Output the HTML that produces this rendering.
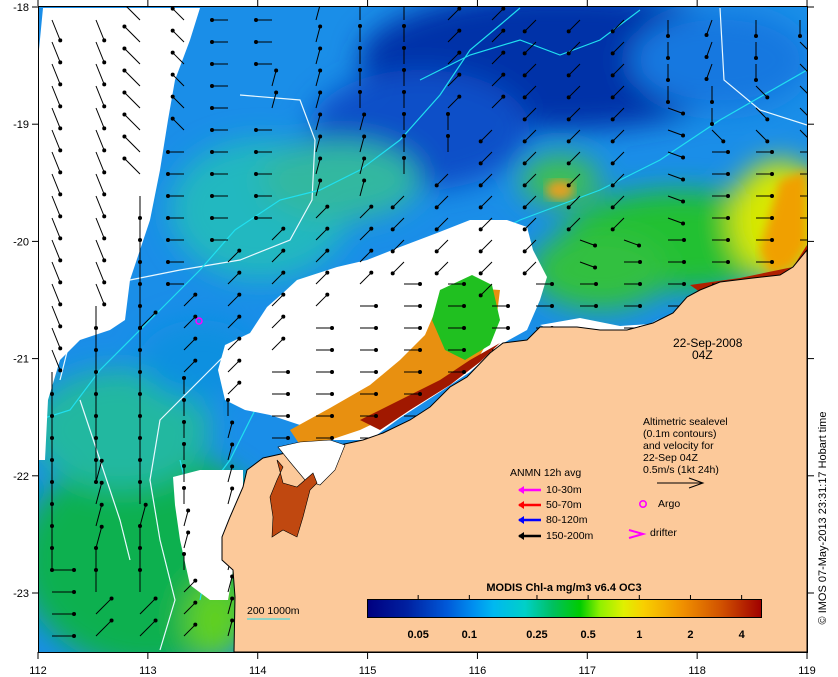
<!DOCTYPE html>
<html><head><meta charset="utf-8">
<style>
html,body{margin:0;padding:0;background:#fff;}
svg{display:block;font-family:"Liberation Sans",sans-serif;}
</style></head>
<body>
<svg id="map" width="838" height="677" viewBox="0 0 838 677">
<defs>
<clipPath id="plot"><rect x="38" y="6" width="769" height="646"/></clipPath>
<filter id="blur" x="-20%" y="-20%" width="140%" height="140%"><feGaussianBlur stdDeviation="14"/></filter>
<filter id="blur2"><feGaussianBlur stdDeviation="5"/></filter>
<linearGradient id="cbar" x1="0" x2="1" y1="0" y2="0">
<stop offset="0" stop-color="#000080"/><stop offset="0.1" stop-color="#0020a0"/>
<stop offset="0.2" stop-color="#0058d8"/><stop offset="0.27" stop-color="#0090f0"/>
<stop offset="0.32" stop-color="#00b8f0"/><stop offset="0.4" stop-color="#00d0c8"/>
<stop offset="0.47" stop-color="#00c060"/><stop offset="0.54" stop-color="#00cc00"/>
<stop offset="0.59" stop-color="#90f000"/><stop offset="0.65" stop-color="#e0f000"/>
<stop offset="0.7" stop-color="#f8d000"/><stop offset="0.8" stop-color="#f09000"/>
<stop offset="0.9" stop-color="#d05000"/><stop offset="1" stop-color="#a00000"/>
</linearGradient>
</defs>

<g clip-path="url(#plot)">
  <rect x="38" y="6" width="769" height="646" fill="#1a8ee8"/>
  <g filter="url(#blur)">
    <ellipse cx="560" cy="60" rx="200" ry="70" fill="#0030a8"/>
    <ellipse cx="420" cy="130" rx="110" ry="60" fill="#1050c8"/>
    <ellipse cx="720" cy="60" rx="90" ry="50" fill="#1878e0"/>
    <ellipse cx="260" cy="210" rx="90" ry="70" fill="#20b8c0"/>
    <ellipse cx="340" cy="180" rx="80" ry="40" fill="#30b8a0"/>
    <ellipse cx="150" cy="560" rx="130" ry="110" fill="#10b050"/>
    <ellipse cx="120" cy="430" rx="90" ry="60" fill="#20b8a0"/>
    <ellipse cx="200" cy="360" rx="60" ry="40" fill="#1090e0"/>
    <ellipse cx="680" cy="240" rx="120" ry="50" fill="#20c030"/>
    <ellipse cx="780" cy="220" rx="50" ry="60" fill="#d8e800"/>
    <ellipse cx="600" cy="270" rx="70" ry="40" fill="#30c040"/>
    <ellipse cx="560" cy="180" rx="40" ry="25" fill="#40c050"/>
    <ellipse cx="215" cy="620" rx="30" ry="40" fill="#60d020"/>
  </g>
  <ellipse cx="560" cy="190" rx="14" ry="10" fill="#e0a020" filter="url(#blur2)"/>
  <path d="M780,180 L807,170 L807,245 L793,267 L770,276 L760,250 Z" fill="#f0a000" filter="url(#blur2)"/>
  <path d="M690,285 L740,278 L793,267 L807,245 L807,260 L793,272 L753,280 L700,292 Z" fill="#b02000"/>
  <g fill="none" stroke-width="1.2">
    <path d="M240,95 L300,100 L315,140 L312,200 L290,240 L240,260 L180,270 L130,280 L90,300 L70,340 L60,380" stroke="#e8f8ff"/>
    <path d="M130,560 L120,520 L100,460 L80,400" stroke="#e8f8ff"/>
    <path d="M160,650 L175,600 L160,540 L150,480 L160,420 L200,380 L240,340 L300,305 L330,280" stroke="#e8f8ff"/>
    <path d="M420,290 L470,270" stroke="#e8f8ff"/>
    <path d="M720,8 L724,80 L760,110 L807,125" stroke="#e8f8ff"/>
    <path d="M38,420 L70,410 L100,370 L150,320 L200,270 L235,230 L280,200 L320,190 L360,170 L400,140 L440,95 L470,50 L500,25 L520,8" stroke="#20e0f0"/>
    <path d="M200,500 L230,460 L260,400 L300,350 L340,320 L400,290 L460,250 L520,220 L560,205 L600,190 L660,160 L720,120 L807,70" stroke="#20e0f0"/>
    <path d="M420,80 L470,55 L520,40 L560,55 L600,40 L640,10" stroke="#20e0f0"/>
    <path d="M200,600 L210,550 L190,500 L180,460" stroke="#20e0f0"/>
  </g>
  <g fill="#ffffff">
    <path d="M43,8 L200,8 L190,40 L175,80 L168,120 L160,170 L150,220 L140,250 L130,280 L125,320 L110,330 L80,340 L60,360 L48,400 L45,460 L38,460 L38,60 Z"/>
    <path d="M267,307 L283,293 L297,280 L337,267 L367,260 L400,247 L437,233 L470,220 L507,220 L527,227 L533,250 L547,277 L540,300 L527,330 L500,345 L470,372 L440,392 L400,418 L370,440 L330,440 L300,425 L270,415 L245,410 L225,400 L218,370 L225,345 L250,333 Z"/>
    <path d="M540,325 L580,318 L620,326 L650,324 L660,318 L640,332 L600,334 L560,334 Z"/>
    <path d="M173,477 L200,470 L243,470 L243,487 L230,517 L222,560 L233,570 L228,600 L210,600 L190,585 L180,540 L175,505 Z"/>
  </g>
  <path d="M290,430 L330,408 L370,385 L400,360 L425,335 L440,300 L470,288 L500,290 L495,330 L480,355 L460,370 L440,385 L410,400 L385,418 L360,430 L330,440 L300,445 Z" fill="#e89010"/>
  <path d="M440,290 L472,275 L492,285 L500,320 L490,345 L465,360 L445,350 L432,320 Z" fill="#20c020"/>
  <path d="M360,420 L400,400 L440,380 L470,360 L500,343 L480,362 L450,385 L410,410 L380,430 Z" fill="#a01800"/>
  <g id="arrows"></g>
  <path id="land" d="M807,250 L793,267 L780,275 L753,278 L720,282 L700,290 L687,297 L673,313 L653,323 L627,330 L600,330 L577,327 L540,327 L527,340 L503,343 L490,353 L467,377 L450,387 L430,407 L410,420 L383,433 L363,440 L340,445 L313,445 L290,452 L263,458 L247,470 L243,487 L230,517 L222,537 L222,560 L233,570 L235,597 L234,652 L807,652 Z" fill="#fcc99a" stroke="#000" stroke-width="1"/>
  <path d="M278,447 L300,442 L330,440 L345,445 L335,470 L320,485 L305,480 L290,462 Z" fill="#ffffff" stroke="#000" stroke-width="0.6"/>
  <path d="M277,460 L283,467 L277,480 L270,497 L273,517 L272,537 L283,530 L297,537 L303,517 L310,490 L317,483 L313,473 L297,487 L283,483 Z" fill="#c04810" stroke="#000" stroke-width="0.6"/>
  <circle cx="199" cy="321" r="3" fill="none" stroke="#ff00ff" stroke-width="1.5"/>
</g>

<rect x="38.5" y="6.5" width="769" height="646" fill="none" stroke="#000"/>
<g id="axes"></g>

<text x="673" y="347" font-size="12">22-Sep-2008</text>
<text x="692" y="359" font-size="12">04Z</text>
<g font-size="10.5">
  <text x="643" y="425">Altimetric sealevel</text>
  <text x="643" y="437">(0.1m contours)</text>
  <text x="643" y="449">and velocity for</text>
  <text x="643" y="461">22-Sep 04Z</text>
  <text x="643" y="473">0.5m/s (1kt 24h)</text>
  <line x1="657" y1="483" x2="703" y2="483" stroke="#000"/>
  <path d="M689,478 L703,483 L689,488" fill="none" stroke="#000"/>
</g>
<g font-size="10.5">
  <text x="510" y="476">ANMN 12h avg</text>
  <g><line x1="519" y1="490" x2="541" y2="490" stroke="#ff00ff" stroke-width="2.5"/><path d="M524,486 L518,490 L524,494 Z" fill="#ff00ff"/><text x="546" y="493">10-30m</text></g>
  <g><line x1="519" y1="505" x2="541" y2="505" stroke="#ff0000" stroke-width="2.5"/><path d="M524,501 L518,505 L524,509 Z" fill="#ff0000"/><text x="546" y="508">50-70m</text></g>
  <g><line x1="519" y1="520" x2="541" y2="520" stroke="#0000ff" stroke-width="2.5"/><path d="M524,516 L518,520 L524,524 Z" fill="#0000ff"/><text x="546" y="523">80-120m</text></g>
  <g><line x1="519" y1="536" x2="541" y2="536" stroke="#000" stroke-width="2.5"/><path d="M524,532 L518,536 L524,540 Z" fill="#000"/><text x="546" y="539">150-200m</text></g>
  <circle cx="643" cy="504" r="3.2" fill="none" stroke="#ff00ff" stroke-width="1.6"/>
  <text x="658" y="507">Argo</text>
  <path d="M629,530 L643,534 L629,538" fill="none" stroke="#ff00ff" stroke-width="2"/>
  <text x="650" y="536">drifter</text>
</g>
<g>
  <text x="247" y="614" font-size="10.5">200  1000m</text>
  <line x1="247" y1="619" x2="290" y2="619" stroke="#20e0f0"/>
</g>
<g>
  <text x="564" y="591" font-size="11" font-weight="bold" text-anchor="middle">MODIS Chl-a mg/m3 v6.4 OC3</text>
  <rect x="367.5" y="599.5" width="394" height="18" fill="url(#cbar)" stroke="#000"/>
  <g id="cbticks"></g>
</g>
<text transform="translate(826,518) rotate(-90)" font-size="11" text-anchor="middle">© IMOS 07-May-2013 23:31:17 Hobart time</text>

<script>
const lonTicks = [112,113,114,115,116,117,118,119];
const latTicks = [-18,-19,-20,-21,-22,-23];
const cbLabels = ["0.05","0.1","0.25","0.5","1","2","4"];
const cbValues = [0.05,0.1,0.25,0.5,1,2,4];
const arrowRows = [
 "dd5544b66773332c22",
 "dd5544b66773332c21",
 "dd5544b66773332c21",
 "dd554bb66773332211",
 "dd554bb6677333a211",
 "dd5544bb663333a111",
 "dd5444bb663333a000",
 "dd5444bb633333a000",
 "dd2444bb333333a000",
 "dd244477333333a000",
 "dd2447773333aa0000",
 "dd2477773333a00000",
 "dd2477770030000000",
 "d22777700000000000",
 "d27777000000000000",
 "d26777000000000000",
 "226770000000000000",
 "226670000000000000",
 "226660000000000000",
 "2266b0000000000000",
 "2266b0000000000000",
 "2b66b0000000000000",
 "2b66b0000000000000",
 "2bbb66000000000000",
 "2b6b66000000000000",
 "0666b6000000000000",
 "0667b6000000000000",
 "0777b6000000000000",
 "0777b6000000000000"
];
const speedRows = [2,2,2,2,2,2,2,2,2,2,2,2,2,2,2,2,2,2,2,2,2,2,2,2,2,2,2,2,2];
const dirAngle = {"0":0,"1":45,"2":90,"3":135,"4":180,"5":225,"6":270,"7":315,"a":20,"b":285,"c":110,"d":68};

const NS = "http://www.w3.org/2000/svg";
const xOf = lon => 38 + (lon - 112) * 109.86;
const yOf = lat => 7 + (-18 - lat) * 117.2;
const cbX = v => 367 + 394 * (Math.log(v) - Math.log(0.025)) / (Math.log(5.2) - Math.log(0.025));
const colX = c => 52 + c * 44;
const rowY = r => 20 + r * 22;

const axes = document.getElementById('axes');
lonTicks.forEach(l => {
  const x = xOf(l);
  const t = document.createElementNS(NS,'line');
  t.setAttribute('x1',x); t.setAttribute('x2',x); t.setAttribute('y1',0); t.setAttribute('y2',6);
  t.setAttribute('stroke','#000');
  
  
  axes.appendChild(t);
  const t2 = t.cloneNode(); t2.setAttribute('y1',652); t2.setAttribute('y2',659); axes.appendChild(t2);
  const tx = document.createElementNS(NS,'text');
  tx.setAttribute('x',x); tx.setAttribute('y',674); tx.setAttribute('font-size','11'); tx.setAttribute('text-anchor','middle');
  
  
  tx.textContent = l; axes.appendChild(tx);
});
latTicks.forEach(l => {
  const y = yOf(l);
  const t = document.createElementNS(NS,'line');
  t.setAttribute('x1',32); t.setAttribute('x2',38); t.setAttribute('y1',y); t.setAttribute('y2',y);
  t.setAttribute('stroke','#000');
  
  
  axes.appendChild(t);
  const t2 = t.cloneNode(); t2.setAttribute('x1',807); t2.setAttribute('x2',814); axes.appendChild(t2);
  const tx = document.createElementNS(NS,'text');
  tx.setAttribute('x',29); tx.setAttribute('y',y+4); tx.setAttribute('font-size','11'); tx.setAttribute('text-anchor','end');
  
  
  tx.textContent = l; axes.appendChild(tx);
});

const cbt = document.getElementById('cbticks');
cbValues.forEach((v,i) => {
  const x = cbX(v);
  const t = document.createElementNS(NS,'line');
  t.setAttribute('x1',x); t.setAttribute('x2',x); t.setAttribute('y1',595); t.setAttribute('y2',599);
  t.setAttribute('stroke','#000');
  
  
  cbt.appendChild(t);
  const tx = document.createElementNS(NS,'text');
  tx.setAttribute('x',x); tx.setAttribute('y',638); tx.setAttribute('font-size','11'); tx.setAttribute('font-weight','bold'); tx.setAttribute('text-anchor','middle');
  
  
  tx.textContent = cbLabels[i]; cbt.appendChild(tx);
});

const land = document.getElementById('land');
const ag = document.getElementById('arrows');
arrowRows.forEach((row, r) => {
  for (let c = 0; c < row.length; c++) {
    const code = row[c];
    if (!(code in dirAngle)) continue;
    const x0 = colX(c), y0 = rowY(r);
    if (x0 > 804 || y0 > 648) continue;
    const pt = land.ownerSVGElement.createSVGPoint(); pt.x = x0; pt.y = y0;
    if (land.isPointInFill && land.isPointInFill(pt)) continue;
    const len = (c < 3 ? 22 : 16) * speedRows[r] / 2;
    const a = dirAngle[code] * Math.PI / 180;
    const x1 = x0 + Math.cos(a) * len, y1 = y0 + Math.sin(a) * len;
    const ln = document.createElementNS(NS,'line');
    ln.setAttribute('x1',x0); ln.setAttribute('y1',y0); ln.setAttribute('x2',x1); ln.setAttribute('y2',y1);
    ln.setAttribute('stroke','#000'); ln.setAttribute('stroke-width','1');
    
    
    ag.appendChild(ln);
    const hd = document.createElementNS(NS,'circle');
    hd.setAttribute('cx',x1); hd.setAttribute('cy',y1); hd.setAttribute('r',2);
    hd.setAttribute('fill','#000');
    
    
    ag.appendChild(hd);
  }
});
</script>
</svg>
</body></html>
